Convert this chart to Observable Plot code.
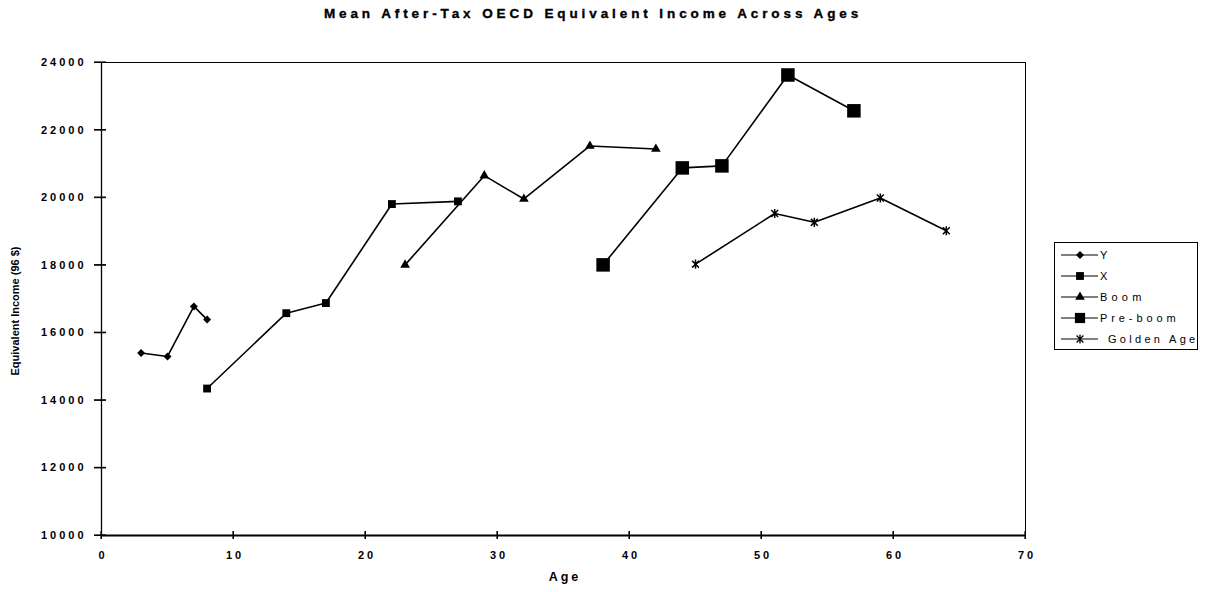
<!DOCTYPE html>
<html>
<head>
<meta charset="utf-8">
<script src="https://cdn.jsdelivr.net/npm/d3@7"></script>
<script src="https://cdn.jsdelivr.net/npm/@observablehq/plot@0.6"></script>
<style>
  html, body { margin: 0; padding: 0; background: #fff; }
  #wrap { position: relative; width: 1209px; height: 592px; overflow: hidden; font-family: "Liberation Sans", Arial, sans-serif; }
  #title { position: absolute; left: 0; top: 6px; width: 1186px; text-align: center; font-size: 13.5px; font-weight: bold; letter-spacing: 3.9px; color: #000; -webkit-text-stroke: 0.35px #000; white-space: nowrap; }
  #chart { position: absolute; left: 0; top: 0; }
  #legend { position: absolute; left: 1054px; top: 242px; }
</style>
</head>
<body>
<div id="wrap">
  <div id="chart"></div>
  <div id="title">Mean After-Tax OECD Equivalent Income Across Ages</div>
  <div id="legend"></div>
</div>
<script>
// ---- data ----
const seriesNames = ["Y", "X", "Boom", "Pre-boom", "Golden Age"];
const agesY = [3, 5, 7, 8];
const incomeY = [15400, 15300, 16780, 16390];
const agesX = [8, 14, 17, 22, 27];
const incomeX = [14350, 16580, 16880, 19810, 19890];
const agesBoom = [23, 29, 32, 37, 42];
const incomeBoom = [18010, 20650, 19960, 21530, 21440];
const agesPreBoom = [38, 44, 47, 52, 57];
const incomePreBoom = [18010, 20880, 20940, 23630, 22570];
const agesGolden = [45, 51, 54, 59, 64];
const incomeGolden = [18030, 19530, 19270, 19990, 19020];
const xTicks = [0, 10, 20, 30, 40, 50, 60, 70];
const yTicks = [10000, 12000, 14000, 16000, 18000, 20000, 22000, 24000];
const xTitle = "Age";
const yTitle = "Equivalent Income (96 $)";

const toRows = (name, ages, inc) => ages.map((a, i) => ({series: name, age: a, income: inc[i]}));
const groups = [
  toRows(seriesNames[0], agesY, incomeY),
  toRows(seriesNames[1], agesX, incomeX),
  toRows(seriesNames[2], agesBoom, incomeBoom),
  toRows(seriesNames[3], agesPreBoom, incomePreBoom),
  toRows(seriesNames[4], agesGolden, incomeGolden)
];
const all = groups.flat();

// custom asterisk: vertical bar plus an x
const starSymbol = {
  draw(context, size) {
    const r = Math.sqrt(size / Math.PI);
    const d = r * 0.75;
    context.moveTo(0, -r); context.lineTo(0, r);
    context.moveTo(-d, -d); context.lineTo(d, d);
    context.moveTo(-d, d); context.lineTo(d, -d);
  }
};

const styles = [
  {symbol: d3.symbolDiamond2, r: 3.6},
  {symbol: d3.symbolSquare2, r: 5},
  {symbol: d3.symbolTriangle2, r: 4.6},
  {symbol: d3.symbolSquare2, r: 8.6},
  {symbol: starSymbol, r: 4.6, stroke: true}
];

const dotMarks = groups.map((rows, i) => {
  const s = styles[i];
  return s.stroke
    ? Plot.dot(rows, {x: "age", y: "income", symbol: s.symbol, r: s.r, stroke: "black", strokeWidth: 1.5})
    : Plot.dot(rows, {x: "age", y: "income", symbol: s.symbol, r: s.r, fill: "black", stroke: "none"});
});

const W = 1209, H = 592, mL = 101, mR = 184, mT = 62, mB = 57;
const frameW = W - mL - mR, frameH = H - mT - mB;

const chart = Plot.plot({
  width: W,
  height: H,
  marginLeft: mL,
  marginRight: mR,
  marginTop: mT,
  marginBottom: mB,
  style: {fontFamily: "'Liberation Sans', Arial, sans-serif", fontSize: "11px", fontWeight: "bold", letterSpacing: "3px", color: "#000", background: "#fff"},
  x: {domain: [0, 70], label: null},
  y: {domain: [10000, 24000], label: null},
  marks: [
    Plot.frame({stroke: "black", strokeWidth: 1}),
    Plot.ruleY([10000], {stroke: "black", strokeWidth: 2}),
    Plot.ruleX([0], {stroke: "black", strokeWidth: 1.3}),
    Plot.axisY(yTicks, {ticks: yTicks, tickSize: 0, tickPadding: 15, tickFormat: d => String(d), label: null, fill: "black"}),
    Plot.axisX(xTicks, {ticks: xTicks, tickSize: 0, tickPadding: 16, dx: 1.5, tickFormat: d => String(d), label: null, fill: "black"}),
    Plot.text([xTitle], {frameAnchor: "bottom", dy: 45, dx: 1.5, text: d => d, fontSize: 12.5, fontWeight: "bold", fill: "black"}),
    Plot.text([yTitle], {frameAnchor: "left", dx: -86, dy: 12, rotate: -90, textAnchor: "middle", text: d => d, fontSize: 11, fontWeight: "bold", fill: "black"}),
    Plot.line(all, {x: "age", y: "income", z: "series", stroke: "black", strokeWidth: 1.6}),
    ...dotMarks,
    // crossing tick marks (drawn last)
    Plot.tickY(yTicks, {y: d => d, insetLeft: -7, insetRight: frameW - 5, strokeWidth: 1}),
    Plot.tickX(xTicks, {x: d => d, insetBottom: -4, insetTop: frameH - 4, strokeWidth: 1})
  ]
});
document.getElementById("chart").appendChild(chart);
d3.select(chart).selectAll("text").filter(function() { return this.textContent === yTitle; })
  .style("letter-spacing", "0px");

// extra crisp ticks through the plot's own scales
const sx = chart.scale("x"), sy = chart.scale("y");
const svg = d3.select(chart);
const tg = svg.append("g").attr("stroke", "#000").attr("stroke-width", 1.2);
yTicks.forEach(v => {
  const y = sy.apply(v);
  tg.append("line").attr("x1", mL - 7).attr("x2", mL + 5).attr("y1", y).attr("y2", y);
});
xTicks.forEach(v => {
  const x = sx.apply(v);
  tg.append("line").attr("x1", x).attr("x2", x).attr("y1", H - mB - 4).attr("y2", H - mB + 4);
});

// ---- legend ----
const lw = 143, lh = 107;
const leg = d3.select("#legend").append("svg").attr("width", lw + 2).attr("height", lh + 2);
leg.append("rect").attr("x", 0.5).attr("y", 0.5).attr("width", lw).attr("height", lh)
  .attr("fill", "white").attr("stroke", "black").attr("stroke-width", 1);
const legSpacing = ["0px", "0px", "4.2px", "3.9px", "3.3px"];
seriesNames.forEach((name, i) => {
  const y = 13 + i * 21;
  const g = leg.append("g").attr("transform", `translate(0,${y})`);
  g.append("line").attr("x1", 7).attr("x2", 44).attr("y1", 0).attr("y2", 0).attr("stroke", "black").attr("stroke-width", 1.2);
  const s = styles[i];
  const rr = i === 3 ? 6.5 : s.r;
  const path = d3.symbol(s.symbol, rr * rr * Math.PI)();
  const p = g.append("path").attr("d", path).attr("transform", "translate(26,0)");
  if (s.stroke) p.attr("fill", "none").attr("stroke", "black").attr("stroke-width", 1.3);
  else p.attr("fill", "black");
  g.append("text").attr("x", i === 4 ? 54 : 46).attr("y", 0).attr("dy", "0.35em")
    .attr("font-family", "'Liberation Sans', Arial, sans-serif").attr("font-size", "11px")
    .attr("letter-spacing", legSpacing[i]).text(name);
});
</script>
</body>
</html>
